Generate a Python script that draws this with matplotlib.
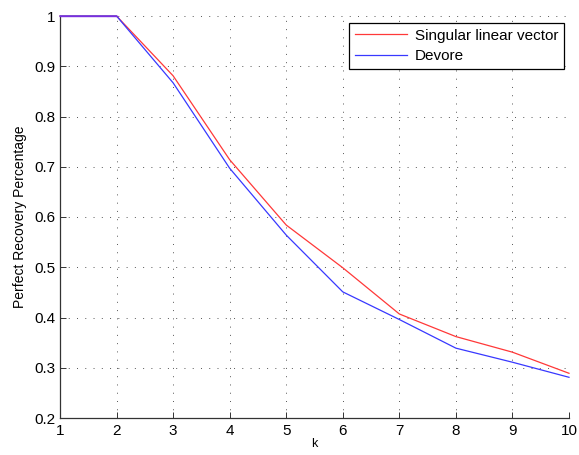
import matplotlib
matplotlib.use("Agg")
import matplotlib.pyplot as plt

k = [1, 2, 3, 4, 5, 6, 7, 8, 9, 10]
singular = [1.0, 1.0, 0.881, 0.714, 0.584, 0.499, 0.407, 0.362, 0.331, 0.289]
devore = [1.0, 1.0, 0.867, 0.697, 0.564, 0.451, 0.396, 0.339, 0.311, 0.281]
xticks = [1, 2, 3, 4, 5, 6, 7, 8, 9, 10]
yticks = [0.2, 0.3, 0.4, 0.5, 0.6, 0.7, 0.8, 0.9, 1.0]
yticklabels = ["0.2", "0.3", "0.4", "0.5", "0.6", "0.7", "0.8", "0.9", "1"]

plt.rcParams['font.family'] = ['Liberation Sans', 'DejaVu Sans']
fig = plt.figure(figsize=(5.79, 4.55), dpi=100)
ax = fig.add_axes([60/579, 1-418/455, 509/579, 402/455])
ax.plot(k, singular, color='#ff3838', lw=0.9, label='Singular linear vector',
        clip_on=False, zorder=5)
ax.plot(k, devore, color='#3838ff', lw=0.9, label='Devore',
        clip_on=False, zorder=5)
ax.plot(k[:2], devore[:2], color='#7a2ee0', lw=1.0, clip_on=False, zorder=6)
ax.set_xlim(1, 10)
ax.set_ylim(0.2, 1.0)
ax.set_xticks(xticks)
ax.set_yticks(yticks)
ax.set_yticklabels(yticklabels)
ax.grid(True, color='#555555', linestyle=(0, (1, 7.5)), linewidth=0.7)
ax.spines['top'].set_visible(False)
ax.spines['right'].set_visible(False)
ax.tick_params(direction='in', labelsize=11, length=4, width=0.7, color='#333333')
ax.tick_params(axis='x', pad=4)
for s in ('left', 'bottom'):
    ax.spines[s].set_linewidth(0.9)
    ax.spines[s].set_color('#333333')
ax.set_xlabel('k', fontsize=9, labelpad=0)
ax.set_ylabel('Perfect Recovery Percentage', fontsize=10, labelpad=5)
leg = ax.legend(loc='upper right', fontsize=11, fancybox=False, framealpha=1,
                edgecolor='black', bbox_to_anchor=(564/579, 1-23/455),
                bbox_transform=fig.transFigure, borderaxespad=0,
                handlelength=3.4, handletextpad=0.5, borderpad=0.38,
                labelspacing=0.42)
leg.get_frame().set_linewidth(0.9)
leg.set_zorder(10)
fig.savefig('out.png', dpi=100)
